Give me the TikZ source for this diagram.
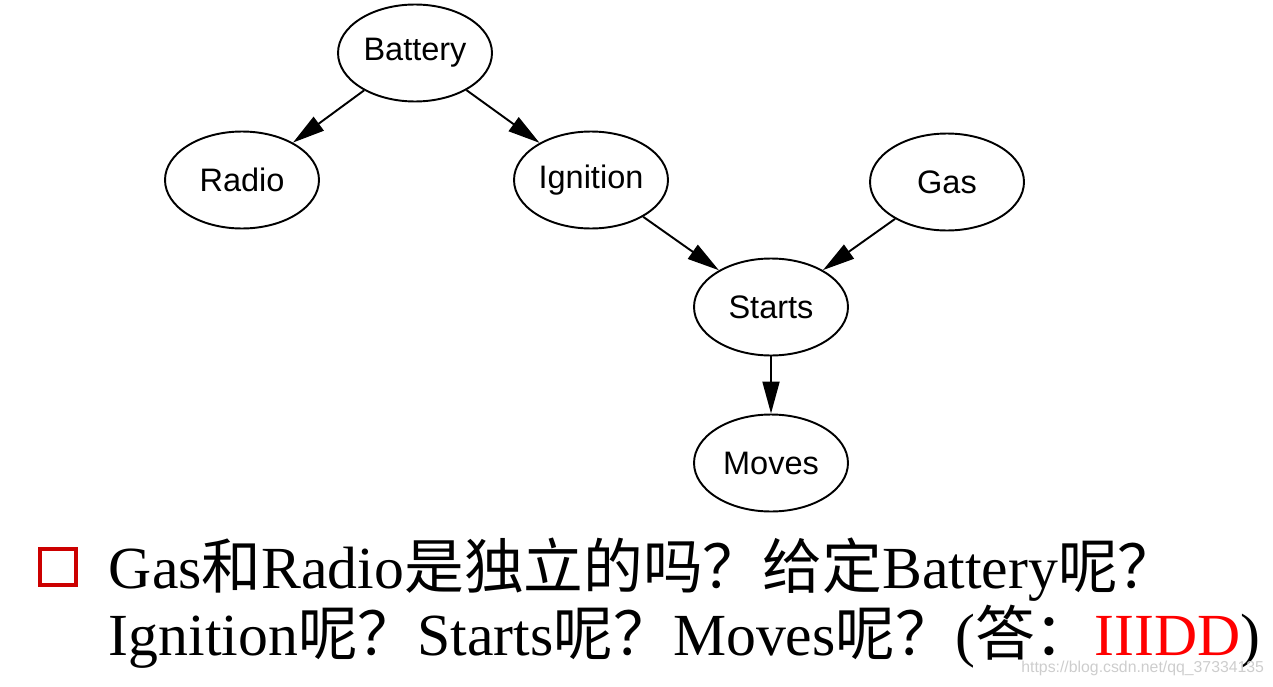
\documentclass[tikz,border=0pt]{standalone}
\usepackage{fontspec}
\setmainfont{Liberation Serif}
\newfontfamily\graphfont{Liberation Sans}
\newfontfamily\cjk{Noto Sans CJK SC}
\usepackage{tikz}
\usetikzlibrary{arrows.meta,positioning,shapes}
\definecolor{bulletred}{RGB}{204,0,0}
\definecolor{answerred}{RGB}{255,0,0}
\definecolor{markgray}{RGB}{205,205,205}
\newcommand{\zh}[1]{{\cjk #1}}

\begin{document}
\begin{tikzpicture}[x=0.02cm,y=-0.02cm,->,>={Triangle[length=0.64cm,width=0.34cm]},
line width=1.1pt]
\tikzstyle{var}=[ellipse,draw,minimum width=3.08cm,minimum height=1.94cm,inner sep=0pt,
font=\graphfont\fontsize{18.5}{22}\selectfont]
\tikzstyle{question}=[anchor=base west,inner sep=0pt,font=\fontsize{34}{40}\selectfont]

\useasboundingbox (0,0) rectangle (1273,686);

\node[var] (battery)  at (415,53)  {Battery};
\node[var] (radio)    at (242,180) {Radio};
\node[var] (ignition) at (591,180) {Ignition};
\node[var] (gas)      at (947,182) {Gas};
\node[var] (starts)   at (771,307) {Starts};
\node[var] (moves)    at (771,463) {Moves};

\path (battery) edge (radio)
(battery) edge (ignition)
(ignition) edge (starts)
(gas) edge (starts)
(starts) edge (moves);

% question below the graph
\node[draw=bulletred,line width=2pt,minimum size=0.72cm,inner sep=0pt] (bullet) at (58,567) {};
\node[question] (line1) at (108,588) {Gas\zh{和}Radio\zh{是独立的吗？给定}Battery\zh{呢？}};
\node[question] (line2) at (108,655) {Ignition\zh{呢？}Starts\zh{呢？}Moves\zh{呢？}(\zh{答：}\textcolor{answerred}{IIIDD})};
\node[anchor=base east,inner sep=0pt,text=markgray,font=\graphfont\fontsize{9}{10}\selectfont] (mark) at (1265,672) {https://blog.csdn.net/qq\_37334135};
\end{tikzpicture}
\end{document}
